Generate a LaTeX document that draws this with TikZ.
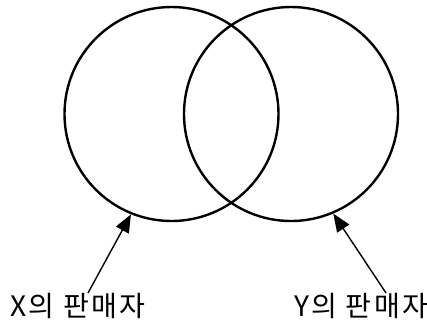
\documentclass[tikz,border=0pt]{standalone}
\usepackage{fontspec}
\setmainfont{Noto Sans CJK KR}
\usetikzlibrary{arrows.meta}
\tikzset{
  set/.style={circle,draw,line width=0.6mm,minimum size=53.5mm,inner sep=0pt},
  lab/.style={inner sep=0pt,anchor=west,font=\fontsize{20}{22}\selectfont\addfontfeatures{LetterSpace=8}},
  pointer/.style={-{Triangle[length=4.5mm,width=3.6mm]},line width=0.35mm}
}
\begin{document}
\begin{tikzpicture}[x=0.25mm,y=-0.25mm]
            \def\r{107} % radius in px
            \useasboundingbox (0,0) rectangle (427,321);
            \node[set] (X) at (171.5,114) {};
            \node[set] (Y) at (291,114) {};
            \node[lab] (lx) at (10,306) {X의 판매자};
            \node[lab] (ly) at (294,306) {Y의 판매자};
            \draw[pointer] ([xshift=19.5mm]lx.north west) -- (X.248);
            \draw[pointer] ([xshift=23mm]ly.north west) -- (Y.293);
        \end{tikzpicture}
\end{document}
